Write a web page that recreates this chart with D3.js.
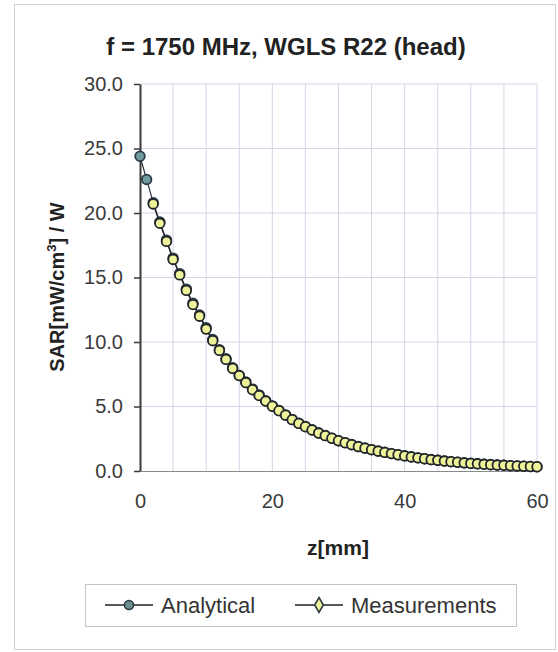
<!DOCTYPE html>
<html>
<head>
<meta charset="utf-8">
<script src="https://cdn.jsdelivr.net/npm/d3@7"></script>
<style>
  body { margin: 0; background: #fff; }
  text { font-family: "Liberation Sans", Arial, sans-serif; }
</style>
</head>
<body>
<div id="chart"></div>
<script>
// z positions in mm
const zValues = [0, 1, 2, 3, 4, 5, 6, 7, 8, 9, 10, 11, 12, 13, 14, 15, 16, 17, 18, 19, 20,
  21, 22, 23, 24, 25, 26, 27, 28, 29, 30, 31, 32, 33, 34, 35, 36, 37, 38, 39, 40,
  41, 42, 43, 44, 45, 46, 47, 48, 49, 50, 51, 52, 53, 54, 55, 56, 57, 58, 59, 60];

const analytical = [24.4, 22.6, 20.8, 19.3, 17.9, 16.5, 15.3, 14.1, 13.0, 12.1, 11.1,
  10.2, 9.4, 8.7, 8.0, 7.4, 6.9, 6.35, 5.9, 5.45, 5.05,
  4.7, 4.35, 4.0, 3.7, 3.45, 3.2, 2.95, 2.75, 2.55, 2.35,
  2.2, 2.05, 1.9, 1.78, 1.66, 1.55, 1.45, 1.35, 1.26, 1.18,
  1.1, 1.02, 0.95, 0.89, 0.83, 0.78, 0.73, 0.68, 0.64, 0.6,
  0.56, 0.53, 0.5, 0.47, 0.44, 0.42, 0.4, 0.37, 0.35, 0.33];

// measurements start at z = 2 mm
const zMeasured = zValues.slice(2);
const measurements = [20.7, 19.2, 17.8, 16.4, 15.2, 14.0, 12.9, 12.0, 11.0,
  10.1, 9.35, 8.65, 7.95, 7.4, 6.85, 6.3, 5.85, 5.42, 5.02,
  4.67, 4.33, 3.98, 3.69, 3.43, 3.18, 2.94, 2.74, 2.54, 2.35,
  2.19, 2.04, 1.89, 1.77, 1.65, 1.54, 1.44, 1.35, 1.26, 1.17,
  1.09, 1.02, 0.95, 0.88, 0.83, 0.77, 0.72, 0.68, 0.63, 0.59,
  0.56, 0.52, 0.49, 0.46, 0.44, 0.41, 0.39, 0.37, 0.35, 0.33];

const xTicks = [0, 20, 40, 60];
const yTicks = [0, 5, 10, 15, 20, 25, 30];
const xGrid = [0, 5, 10, 15, 20, 25, 30, 35, 40, 45, 50, 55, 60];

const W = 558, H = 652;
const margin = { top: 84, right: 21, bottom: 181, left: 140 };

const svg = d3.select("#chart").append("svg")
  .attr("width", W)
  .attr("height", H);

// outer frame
svg.append("rect")
  .attr("x", 14.5).attr("y", 4.5)
  .attr("width", 541).attr("height", 645)
  .attr("fill", "#fff")
  .attr("stroke", "#cfcfcf");

const x = d3.scaleLinear().domain([0, 60]).range([margin.left, W - margin.right]);
const y = d3.scaleLinear().domain([0, 30]).range([H - margin.bottom, margin.top]);

// grid
svg.append("g").selectAll("line")
  .data(xGrid.slice(1))
  .enter().append("line")
  .attr("x1", d => x(d)).attr("x2", d => x(d))
  .attr("y1", y(0)).attr("y2", y(30))
  .attr("stroke", "#d3d5e6").attr("stroke-width", 1);

svg.append("g").selectAll("line")
  .data(yTicks.slice(1))
  .enter().append("line")
  .attr("x1", x(0)).attr("x2", x(60))
  .attr("y1", d => y(d)).attr("y2", d => y(d))
  .attr("stroke", "#d3d5e6").attr("stroke-width", 1);

// x axis
const xAxis = svg.append("g")
  .attr("transform", `translate(0,${y(0)})`)
  .call(d3.axisBottom(x).tickValues(xTicks).tickSize(0).tickPadding(23));
xAxis.select(".domain").attr("stroke", "#8a8a8a").attr("stroke-width", 1.2);
xAxis.selectAll("text")
  .attr("font-size", 20).attr("fill", "#3a3a3a")
  .style("font-family", "Liberation Sans, Arial, sans-serif");

// y axis
const yAxis = svg.append("g")
  .attr("transform", `translate(${x(0)},0)`)
  .call(d3.axisLeft(y).tickValues(yTicks).tickFormat(d3.format(".1f")).tickSize(6).tickSizeOuter(0).tickPadding(11));
yAxis.select(".domain").attr("stroke", "#3a3a3a").attr("stroke-width", 2);
yAxis.selectAll(".tick line").attr("stroke", "#3a3a3a").attr("stroke-width", 1.5);
yAxis.selectAll("text")
  .attr("font-size", 20).attr("fill", "#3a3a3a")
  .style("font-family", "Liberation Sans, Arial, sans-serif");

// series lines
const line = d3.line().x(d => x(d[0])).y(d => y(d[1]));
const aPts = zValues.map((z, i) => [z, analytical[i]]);
const mPts = zMeasured.map((z, i) => [z, measurements[i]]);

svg.append("path").datum(aPts)
  .attr("d", line).attr("fill", "none")
  .attr("stroke", "#2a2f38").attr("stroke-width", 1.2);

svg.append("g").selectAll("circle")
  .data(aPts).enter().append("circle")
  .attr("cx", d => x(d[0])).attr("cy", d => y(d[1]))
  .attr("r", 4.8)
  .attr("fill", "#6f9c9f").attr("stroke", "#2b3a44").attr("stroke-width", 1.8);

svg.append("path").datum(mPts)
  .attr("d", line).attr("fill", "none")
  .attr("stroke", "#22252c").attr("stroke-width", 1.2);

svg.append("g").selectAll("circle")
  .data(mPts).enter().append("circle")
  .attr("cx", d => x(d[0])).attr("cy", d => y(d[1]))
  .attr("r", 4.8)
  .attr("fill", "#eef39a").attr("stroke", "#22252c").attr("stroke-width", 1.8);

// title
svg.append("text")
  .attr("x", 286).attr("y", 55)
  .attr("text-anchor", "middle")
  .attr("font-size", 24).attr("font-weight", "bold").attr("fill", "#222")
  .text("f = 1750 MHz, WGLS R22 (head)");

// x label
svg.append("text")
  .attr("x", 338).attr("y", 555)
  .attr("text-anchor", "middle")
  .attr("font-size", 21).attr("font-weight", "bold").attr("fill", "#222")
  .text("z[mm]");

// y label
const yl = svg.append("text")
  .attr("transform", "translate(64,287) rotate(-90)")
  .attr("text-anchor", "middle")
  .attr("font-size", 20).attr("font-weight", "bold").attr("fill", "#222");
yl.append("tspan").text("SAR[mW/cm");
yl.append("tspan").attr("font-size", 13).attr("dy", -8).text("3");
yl.append("tspan").attr("dy", 8).text("] / W");

// legend
const lg = svg.append("g");
lg.append("rect")
  .attr("x", 85.5).attr("y", 584.5)
  .attr("width", 431).attr("height", 42)
  .attr("fill", "#fff").attr("stroke", "#c4c4c4");

const legendItems = [
  { name: "Analytical", x0: 105, fill: "#6f8f92", shape: d3.symbolCircle },
  { name: "Measurements", x0: 295, fill: "#eef39a", shape: d3.symbolDiamond }
];
const li = lg.selectAll(".item").data(legendItems).enter().append("g")
  .attr("transform", d => `translate(${d.x0},605)`);
li.append("line")
  .attr("x1", 0).attr("x2", 48)
  .attr("stroke", "#222").attr("stroke-width", 1.5);
li.append("path")
  .attr("transform", "translate(24,0)")
  .attr("d", d => d3.symbol().type(d.shape).size(d.shape === d3.symbolCircle ? 65 : 65)())
  .attr("fill", d => d.fill).attr("stroke", "#2b3a44").attr("stroke-width", 1.6);
li.append("text")
  .attr("x", 56).attr("y", 8)
  .attr("font-size", 22).attr("fill", "#333")
  .text(d => d.name);
</script>
</body>
</html>
